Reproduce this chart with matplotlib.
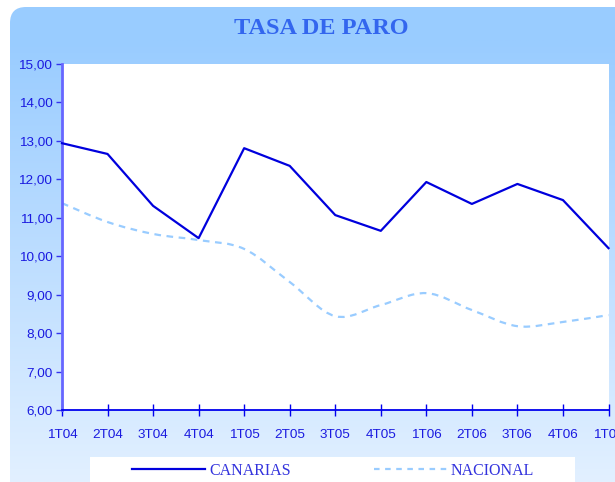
import numpy as np
import matplotlib
matplotlib.use("Agg")
import matplotlib.pyplot as plt
from matplotlib.patches import FancyBboxPatch, Rectangle, PathPatch
from matplotlib.path import Path
from matplotlib.lines import Line2D

# data
trimestres = ["1T04", "2T04", "3T04", "4T04", "1T05", "2T05", "3T05",
              "4T05", "1T06", "2T06", "3T06", "4T06", "1T07"]
canarias = [12.94, 12.66, 11.31, 10.47, 12.81, 12.35, 11.07,
            10.66, 11.93, 11.36, 11.88, 11.46, 10.21]
nacional = [11.38, 10.89, 10.58, 10.42, 10.19, 9.33, 8.44,
            8.73, 9.04, 8.60, 8.18, 8.29, 8.47]
y_ticks = [6, 7, 8, 9, 10, 11, 12, 13, 14, 15]

W, H = 615, 482
fig = plt.figure(figsize=(W / 100, H / 100), dpi=100)

# background: rounded box with vertical gradient
bg = fig.add_axes([0, 0, 1, 1], zorder=-2)
bg.set_xlim(0, W)
bg.set_ylim(H, 0)
bg.axis("off")
grad = np.linspace(0, 1, 256).reshape(-1, 1)
top = np.array([0x99, 0xCC, 0xFF]) / 255
bot = np.array([0xE2, 0xF0, 0xFF]) / 255
img = top + (bot - top) * grad[..., None]
img = img * np.ones((1, 2, 1))
im = bg.imshow(img, extent=(0, W, H, 40), aspect="auto")
band = bg.imshow(np.ones((1, 2, 3)) * top, extent=(0, W, 40, 0), aspect="auto")
box = FancyBboxPatch((10, 7), 640, 520, boxstyle="round,pad=0,rounding_size=16",
                     facecolor="none", edgecolor="none")
bg.add_patch(box)
im.set_clip_path(box)
band.set_clip_path(box)
bg.add_patch(Rectangle((90, 457), 485, 40, facecolor="white", edgecolor="none"))

fig.text(321.5 / W, 1 - 28 / H, "TASA DE PARO", ha="center", va="center",
         fontsize=17.5, fontweight="bold", color="#3366EE", family="Liberation Serif")

# main axes
ax = fig.add_axes([62 / W, 1 - 410 / H, (608.5 - 62) / W, (410 - 64) / H])
ax.set_facecolor("white")
x = np.arange(len(trimestres))
ax.plot(x, canarias, color="#0000DD", lw=1.6, zorder=3, clip_on=False)

# smoothed line for nacional (bezier through the data points)
pts = np.column_stack([x, nacional])
verts = [pts[0]]
codes = [Path.MOVETO]
for i in range(len(pts) - 1):
    p0 = pts[max(i - 1, 0)]
    p1 = pts[i]
    p2 = pts[i + 1]
    p3 = pts[min(i + 2, len(pts) - 1)]
    verts += [p1 + (p2 - p0) / 6, p2 - (p3 - p1) / 6, p2]
    codes += [Path.CURVE4] * 3
ax.add_patch(PathPatch(Path(verts, codes), fill=False, edgecolor="#99CCFF",
                       lw=1.6, linestyle=(0, (3, 2.5)), zorder=2))

ax.set_xlim(0, 12)
ax.set_ylim(6, 15)
ax.set_xticks(x)
ax.set_xticklabels(trimestres)
ax.set_yticks(y_ticks)
ax.set_yticklabels(["%d,00" % v for v in y_ticks])
for s in ["top", "right"]:
    ax.spines[s].set_visible(False)
ax.spines["left"].set_color("#6666FF")
ax.spines["left"].set_linewidth(2)
ax.spines["bottom"].set_color("#0000EE")
ax.spines["bottom"].set_linewidth(1.3)
ax.tick_params(axis="y", direction="out", length=4, width=1, color="#3333EE",
               labelsize=9.7, labelcolor="#1a1ae0", pad=3)
ax.tick_params(axis="x", direction="inout", length=8, width=1, color="#0000EE",
               labelsize=9.7, labelcolor="#1a1ae0", pad=10)
for t in ax.get_xticklabels() + ax.get_yticklabels():
    t.set_family("Liberation Sans")

handles = [Line2D([], [], color="#0000DD", lw=1.6),
           Line2D([], [], color="#99CCFF", lw=1.6, linestyle=(0, (2.5, 2.5)))]
leg = fig.legend(handles, ["CANARIAS", "NACIONAL"], loc="center left",
                 bbox_to_anchor=(132 / W, 1 - 471 / H), bbox_transform=fig.transFigure,
                 ncol=2, frameon=False, borderpad=0, borderaxespad=0,
                 handlelength=4.57, handletextpad=0.25, columnspacing=5.2,
                 prop={"family": "Liberation Serif", "size": 11.5})
for t in leg.get_texts():
    t.set_color("#3333DD")

fig.savefig("out.png", dpi=100)
